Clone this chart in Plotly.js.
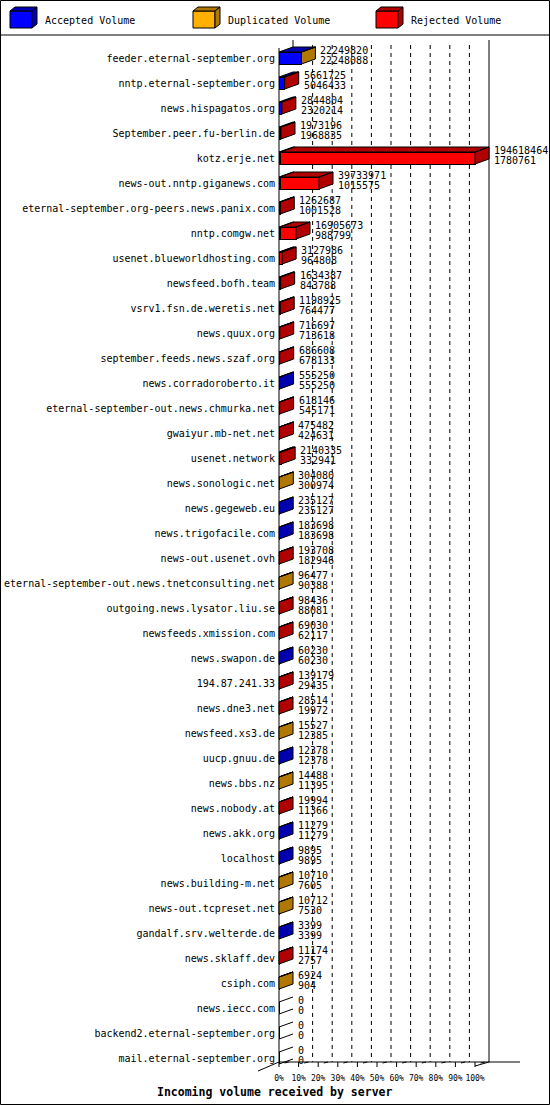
<!DOCTYPE html>
<html>
<head>
<meta charset="utf-8">
<script src="https://cdn.plot.ly/plotly-3.0.1.min.js"></script>
<style>html,body{margin:0;padding:0;background:#fff;}</style>
</head>
<body>
<div id="chart" style="width:550px;height:1105px;"></div>
<script>
// servers, top to bottom
var hosts = [
  'feeder.eternal-september.org', 'nntp.eternal-september.org', 'news.hispagatos.org',
  'September.peer.fu-berlin.de', 'kotz.erje.net', 'news-out.nntp.giganews.com',
  'eternal-september.org-peers.news.panix.com', 'nntp.comgw.net', 'usenet.blueworldhosting.com',
  'newsfeed.bofh.team', 'vsrv1.fsn.de.weretis.net', 'news.quux.org',
  'september.feeds.news.szaf.org', 'news.corradoroberto.it', 'eternal-september-out.news.chmurka.net',
  'gwaiyur.mb-net.net', 'usenet.network', 'news.sonologic.net',
  'news.gegeweb.eu', 'news.trigofacile.com', 'news-out.usenet.ovh',
  'eternal-september-out.news.tnetconsulting.net', 'outgoing.news.lysator.liu.se', 'newsfeeds.xmission.com',
  'news.swapon.de', '194.87.241.33', 'news.dne3.net',
  'newsfeed.xs3.de', 'uucp.gnuu.de', 'news.bbs.nz',
  'news.nobody.at', 'news.akk.org', 'localhost',
  'news.building-m.net', 'news-out.tcpreset.net', 'gandalf.srv.welterde.de',
  'news.sklaff.dev', 'csiph.com', 'news.iecc.com',
  'backend2.eternal-september.org', 'mail.eternal-september.org'
];
var totalVolume = [
  22249820, 5661725, 2844804, 1973196, 194618464, 39733971, 1262687, 16905673, 3127986,
  1634387, 1198925, 716697, 686608, 555250, 618146, 475482, 2140335, 304080,
  235127, 183698, 193708, 96477, 98436, 69030, 60230, 139179, 28514,
  15527, 12378, 14488, 19994, 11279, 9895, 10710, 10712, 3399,
  11174, 6924, 0, 0, 0
];
var acceptedVolume = [
  22248088, 5046433, 2320214, 1968835, 1780761, 1015575, 1001528, 988799, 964808,
  843788, 764477, 713618, 678133, 555250, 545171, 424631, 332941, 300974,
  235127, 183698, 182946, 90388, 88081, 62117, 60230, 29435, 19972,
  12385, 12378, 11395, 11366, 11279, 9895, 7605, 7530, 3399,
  2757, 904, 0, 0, 0
];
var duplicatedVolume = [
  1732, 0, 0, 0, 0, 0, 0, 0, 0,
  0, 0, 0, 0, 0, 0, 0, 0, 3106,
  0, 0, 0, 6089, 0, 0, 0, 0, 0,
  3142, 0, 3093, 0, 0, 0, 3105, 3182, 0,
  0, 6020, 0, 0, 0
];
var rejectedVolume = [
  0, 615292, 524590, 4361, 192837703, 38718396, 261159, 15916874, 2163178,
  790599, 434448, 3079, 8475, 0, 72975, 50851, 1807394, 0,
  0, 0, 10762, 0, 10355, 6913, 0, 109744, 8542,
  0, 0, 0, 8628, 0, 0, 0, 0, 0,
  8417, 0, 0, 0, 0
];
var seriesNames = ['Accepted Volume', 'Duplicated Volume', 'Rejected Volume'];
var percentTicks = [0, 10, 20, 30, 40, 50, 60, 70, 80, 90, 100];

var frontColors = ['#0000ff', '#ffb000', '#ff0000'];
var sideColors = ['#0000b0', '#b07800', '#b00000'];
var MONO = 'DejaVu Sans Mono, monospace';

// pixel frame of the picture
var W = 550, H = 1105;
var PLOT_T = 36, PLOT_B = 1072;
var X0 = 279, PX_UNIT = 1.96;       // 0% front edge, px per percent
var ROW0 = 58, ROW_H = 25;          // centre of first row, row step
var DX = 14 / PX_UNIT, DY = 5 / ROW_H, HALF = 0.24;

function X(px) { return (px - X0) / PX_UNIT; }
function Y(py) { return (py - ROW0) / ROW_H; }
function XP(px) { return px / W; }
function YP(py) { return (PLOT_B - py) / (PLOT_B - PLOT_T); }

var series = [acceptedVolume, duplicatedVolume, rejectedVolume];
var maxTotal = Math.max.apply(null, totalVolume);
var rows = hosts.map(function (h, i) { return i; });

var data = [];
series.forEach(function (vals, s) {
  data.push({
    type: 'bar', orientation: 'h', name: seriesNames[s],
    y: rows, x: vals.map(function (v) { return v / maxTotal * 100; }),
    width: 0.48,
    marker: {color: frontColors[s], line: {color: '#000', width: 1}},
    hoverinfo: 'skip', showlegend: false
  });
});

// 3d top and side faces
var faceX = [[], [], []], faceY = [[], [], []];
var zeroX = [], zeroY = [];
var ends = [];
rows.forEach(function (i) {
  var start = 0, last = -1;
  series.forEach(function (vals, s) {
    var w = vals[i] / maxTotal * 100;
    if (vals[i] > 0) {
      var t = i - HALF;
      faceX[s].push(start, start + w, start + w + DX, start + DX, start, null);
      faceY[s].push(t, t, t - DY, t - DY, t, null);
      last = s;
    }
    start += w;
  });
  ends.push(start);
  if (last >= 0) {
    faceX[last].push(start, start, start + DX, start + DX, start, null);
    faceY[last].push(i - HALF, i + HALF, i + HALF - DY, i - HALF - DY, i - HALF, null);
  } else {
    zeroX.push(DX, 0, null, 0, DX, null);
    zeroY.push(i - HALF - DY, i - HALF, null, i + HALF, i + HALF - DY, null);
  }
});
series.forEach(function (vals, s) {
  data.push({
    type: 'scatter', mode: 'lines', x: faceX[s], y: faceY[s],
    fill: 'toself', fillcolor: sideColors[s],
    line: {color: '#000', width: 1}, hoverinfo: 'skip', showlegend: false
  });
});
data.push({
  type: 'scatter', mode: 'lines', x: zeroX, y: zeroY,
  line: {color: '#000', width: 1}, hoverinfo: 'skip', showlegend: false
});

// value labels: total on top, accepted below
var annotations = [];
rows.forEach(function (i) {
  var xl = ends[i] + DX + 1.5;
  annotations.push({x: xl, y: i - 0.32, text: String(totalVolume[i]), xanchor: 'left', yanchor: 'middle',
    showarrow: false, font: {family: MONO, size: 10, color: '#000'}});
  annotations.push({x: xl, y: i + 0.1, text: String(acceptedVolume[i]), xanchor: 'left', yanchor: 'middle',
    showarrow: false, font: {family: MONO, size: 10, color: '#000'}});
});

// back wall, grid and floor
var shapes = [];
function seg(x0, y0, x1, y1, dash) {
  shapes.push({type: 'line', xref: 'x', yref: 'y', x0: x0, y0: y0, x1: x1, y1: y1, layer: 'below',
    line: {color: '#000', width: 1, dash: dash || 'solid'}});
}
seg(0, Y(48), 0, Y(1062));
seg(DX, Y(40), DX, Y(50));
seg(100 + DX, Y(40), 100 + DX, Y(1062));
percentTicks.slice(1, -1).forEach(function (k) { seg(k + DX, Y(45), k + DX, Y(1062), '4px,4px'); });
seg(0, Y(1062), X(520), Y(1062));
seg(X(258), Y(1071), 0, Y(1062));
seg(100, Y(1066), 100 + DX, Y(1062));
percentTicks.forEach(function (k) {
  seg(k, Y(1062), k, Y(1067));
  seg(k + DX * 0.4, Y(1063), k + DX * 0.7, Y(1062));
});

// page frame and legend
function pline(x0, y0, x1, y1) {
  shapes.push({type: 'line', xref: 'paper', yref: 'paper', x0: XP(x0), y0: YP(y0), x1: XP(x1), y1: YP(y1),
    line: {color: '#000', width: 1}});
}
function ppoly(pts, fill) {
  var p = pts.map(function (q, j) { return (j ? 'L' : 'M') + XP(q[0]) + ',' + YP(q[1]); }).join(' ') + ' Z';
  shapes.push({type: 'path', xref: 'paper', yref: 'paper', path: p, fillcolor: fill,
    line: {color: '#000', width: 1}});
}
shapes.push({type: 'rect', xref: 'paper', yref: 'paper', x0: XP(0.5), x1: XP(549.5), y0: YP(0.5), y1: YP(1104.5),
  line: {color: '#000', width: 1}});
pline(0, 35, 550, 35);
seriesNames.forEach(function (name, s) {
  var lx = 10 + s * 183;
  ppoly([[lx, 11], [lx + 22, 11], [lx + 22, 28], [lx, 28]], frontColors[s]);
  ppoly([[lx, 11], [lx + 5, 7], [lx + 27, 7], [lx + 22, 11]], sideColors[s]);
  ppoly([[lx + 22, 11], [lx + 27, 7], [lx + 27, 24], [lx + 22, 28]], sideColors[s]);
  annotations.push({xref: 'paper', yref: 'paper', x: XP(lx + 33), y: YP(20), text: name,
    xanchor: 'left', yanchor: 'middle', showarrow: false, font: {family: MONO, size: 10, color: '#000'}});
});
annotations.push({xref: 'paper', yref: 'paper', x: XP(274), y: YP(1092),
  text: '<b>Incoming volume received by server</b>', xanchor: 'center', yanchor: 'middle',
  showarrow: false, font: {family: MONO, size: 11.5, color: '#000'}});

var layout = {
  width: W, height: H,
  margin: {l: 0, r: 0, t: PLOT_T, b: H - PLOT_B, pad: 0},
  paper_bgcolor: '#fff', plot_bgcolor: '#fff',
  barmode: 'stack', bargap: 0,
  showlegend: false,
  xaxis: {
    range: [X(0), X(W)], tickmode: 'array', tickvals: percentTicks,
    ticktext: percentTicks.map(function (v) { return v + '%'; }),
    ticks: '', showgrid: false, zeroline: false, showline: false, fixedrange: true,
    tickfont: {family: MONO, size: 8, color: '#000'}
  },
  yaxis: {
    range: [Y(PLOT_B), Y(PLOT_T)], tickmode: 'array', tickvals: rows, ticktext: hosts,
    anchor: 'free', position: XP(X0), side: 'left',
    ticks: '', ticklabelstandoff: 4, showgrid: false, zeroline: false, showline: false, fixedrange: true,
    tickfont: {family: MONO, size: 10, color: '#000'}
  },
  shapes: shapes,
  annotations: annotations
};

Plotly.newPlot('chart', data, layout, {displayModeBar: false, staticPlot: true});
</script>
</body>
</html>
